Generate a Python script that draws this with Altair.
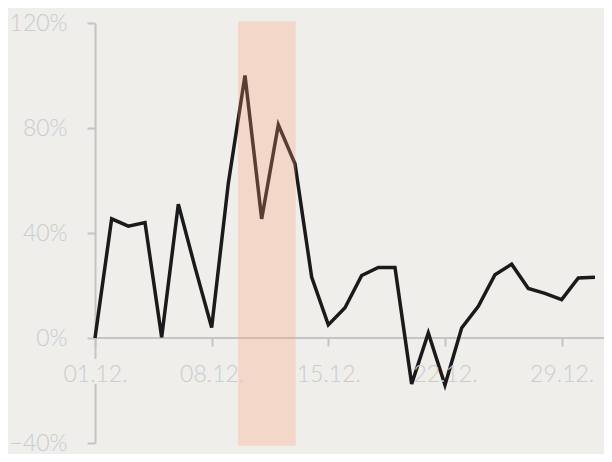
import altair as alt
import pandas as pd

# ---- data ----
dates = [f"2023-12-{d:02d}T00:00:00Z" for d in range(1, 32)]
values_pct = [0, 45.4, 42.6, 44.0, 0.3, 51.0, 27.0, 4.0, 59.0, 100.0,
              45.4, 81.2, 66.4, 23.2, 5.0, 11.5, 23.8, 26.9, 26.9, -17.5,
              1.9, -17.9, 3.8, 12.1, 24.1, 28.1, 18.9, 17.0, 14.6, 22.9, 23.1]

band_start = ["2023-12-09T14:00:00Z"]
band_end = ["2023-12-13T01:00:00Z"]
band_low = [-0.41]
band_high = [1.207]

# small background patch behind the first x label (gap in the y axis line)
mask_start = ["2023-11-30T19:00:00Z"]
mask_end = ["2023-12-01T05:00:00Z"]
mask_low = [-0.175]
mask_high = [-0.08]

tick_days = [1, 8, 15, 22, 29]
y_ticks = [-0.4, 0, 0.4, 0.8, 1.2]

BG = "#efeeeb"
AXIS = "#c4c4c4"
LABEL = "#cbcbcb"
FONT = "Lato"
FS = 23

W, H = 509, 420

df = pd.DataFrame({"date": dates, "value": [v / 100 for v in values_pct]})
band = pd.DataFrame({"start": band_start, "end": band_end, "lo": band_low, "hi": band_high})
mask = pd.DataFrame({"start": mask_start, "end": mask_end, "lo": mask_low, "hi": mask_high})

xscale = alt.Scale(type="utc",
                   domain=[alt.DateTime(year=2023, month=12, date=1, utc=True),
                           alt.DateTime(year=2023, month=12, date=31, hours=13, utc=True)])
yscale = alt.Scale(domain=[-0.4, 1.2], nice=False, zero=False)

xaxis = alt.Axis(values=[alt.DateTime(year=2023, month=12, date=d, utc=True) for d in tick_days],
                 format="%d.%m.", domain=False, grid=False, title=None,
                 offset=-H / 4, tickSize=8, tickWidth=2, tickColor=AXIS,
                 labelFont=FONT, labelFontSize=FS, labelFontWeight=300,
                 labelColor=LABEL, labelPadding=17, labelFlush=False, zindex=1)
yaxis = alt.Axis(values=y_ticks, format=".0%", grid=False, title=None,
                 domainColor=AXIS, domainWidth=2, tickColor=AXIS, tickWidth=2,
                 tickSize=8, labelFont=FONT, labelFontSize=FS, labelFontWeight=300,
                 labelColor=LABEL, labelPadding=20, labelFlush=False, zindex=0)

zero = alt.Chart(df).mark_rule(color=AXIS, strokeWidth=2).encode(
    y=alt.datum(0, scale=yscale, axis=yaxis))

mask_layer = alt.Chart(mask).mark_rect(color=BG).encode(
    x=alt.X("start:T", scale=xscale, axis=xaxis), x2="end:T",
    y=alt.Y("lo:Q", scale=yscale), y2="hi:Q")

line = alt.Chart(df).mark_line(color="#1a1a1a", strokeWidth=3.5, strokeJoin="miter").encode(
    x=alt.X("date:T", scale=xscale, axis=xaxis),
    y=alt.Y("value:Q", scale=yscale, axis=yaxis))

band_layer = alt.Chart(band).mark_rect(color="#ff9f74", opacity=0.28).encode(
    x=alt.X("start:T", scale=xscale), x2="end:T",
    y=alt.Y("lo:Q", scale=yscale), y2="hi:Q")

chart = alt.layer(zero, mask_layer, line, band_layer).properties(
    width=W, height=H,
    autosize=alt.AutoSizeParams(type="none"),
    padding={"left": 87, "top": 15, "right": 0, "bottom": 11},
    background=BG,
).configure_view(stroke=None)

chart.save("out.html", embed_options={"renderer": "svg", "actions": False})
